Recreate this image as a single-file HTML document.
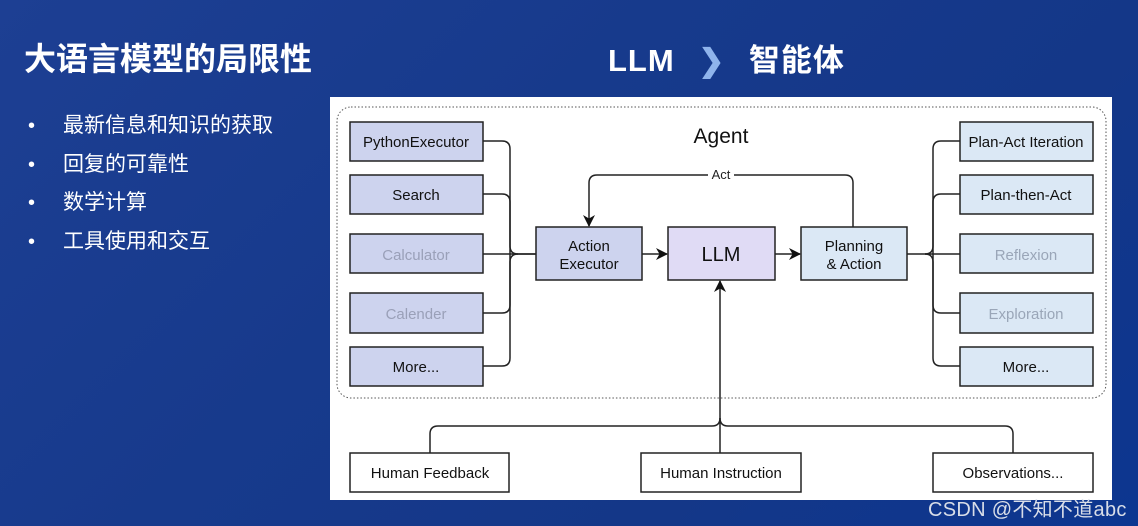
<!DOCTYPE html>
<html><head><meta charset="utf-8"><style>
html,body{margin:0;padding:0}
body{width:1138px;height:526px;overflow:hidden;position:relative;background:linear-gradient(135deg,#1d3f93 0%,#173a8c 40%,#143788 70%,#0c3690 100%);font-family:"Liberation Sans","Noto Sans CJK SC",sans-serif}
.t{position:absolute;color:#fff;white-space:nowrap}
</style></head><body>
<div class="t" style="left:24px;top:34px;font-size:32px;font-weight:bold">大语言模型的局限性</div>
<div class="t" style="left:608px;top:35px;font-size:31px;font-weight:bold;letter-spacing:1px">LLM <span style="color:#8fb4ec;margin:0 14px">❯</span> 智能体</div>
<div class="t" style="left:28px;top:107px;font-size:20px;line-height:38.5px">•<br>•<br>•<br>•</div>
<div class="t" style="left:63px;top:107px;font-size:21px;line-height:38.5px">最新信息和知识的获取<br>回复的可靠性<br>数学计算<br>工具使用和交互</div>
<div style="position:absolute;left:330px;top:97px;width:782px;height:403px;background:#fff"></div>
<svg style="position:absolute;left:0;top:0" width="1138" height="526" font-family="Liberation Sans, sans-serif">
<defs><marker id="a" markerWidth="12" markerHeight="12" refX="11" refY="6" orient="auto" markerUnits="userSpaceOnUse"><path d="M0,0 L12,6 L0,12 L3.5,6z" fill="#111"/></marker></defs>
<rect x="337" y="107" width="769" height="291" rx="14" fill="none" stroke="#555" stroke-dasharray="1.5,2"/>
<text x="721" y="143" font-size="21" text-anchor="middle" fill="#111">Agent</text>
<g stroke="#222" stroke-width="1.5" fill="#cdd3ee">
<rect x="350" y="122" width="133" height="39"/><rect x="350" y="175" width="133" height="39"/><rect x="350" y="234" width="133" height="39"/><rect x="350" y="293" width="133" height="40"/><rect x="350" y="347" width="133" height="39"/>
<rect x="536" y="227" width="106" height="53"/>
</g>
<rect x="668" y="227" width="107" height="53" fill="#e0dbf5" stroke="#222" stroke-width="1.5"/>
<g stroke="#222" stroke-width="1.5" fill="#dbe8f5">
<rect x="801" y="227" width="106" height="53"/>
<rect x="960" y="122" width="133" height="39"/><rect x="960" y="175" width="133" height="39"/><rect x="960" y="234" width="133" height="39"/><rect x="960" y="293" width="133" height="40"/><rect x="960" y="347" width="133" height="39"/>
</g>
<g stroke="#222" stroke-width="1.5" fill="#fff">
<rect x="350" y="453" width="159" height="39"/><rect x="641" y="453" width="160" height="39"/><rect x="933" y="453" width="160" height="39"/>
</g>
<g stroke="#222" stroke-width="1.5" fill="none">
<path d="M483,141 H502 Q510,141 510,149 V246 Q510,254 518,254 H536"/>
<path d="M483,194 H502 Q510,194 510,202 V254"/>
<path d="M483,254 H536"/>
<path d="M483,313 H502 Q510,313 510,305 V254"/>
<path d="M483,366 H502 Q510,366 510,358 V262 Q510,254 518,254"/>
<path d="M642,254 H667" marker-end="url(#a)"/>
<path d="M775,254 H800" marker-end="url(#a)"/>
<path d="M853,227 V183 Q853,175 845,175 H597 Q589,175 589,183 V226" marker-end="url(#a)"/>
<path d="M907,254 H960"/>
<path d="M960,141 H941 Q933,141 933,149 V246 Q933,254 925,254"/>
<path d="M960,194 H941 Q933,194 933,202 V254"/>
<path d="M960,313 H941 Q933,313 933,305 V254"/>
<path d="M960,366 H941 Q933,366 933,358 V262 Q933,254 925,254"/>
<path d="M720,453 V281" marker-end="url(#a)"/>
<path d="M430,453 V434 Q430,426 438,426 H712 Q720,426 720,418"/>
<path d="M1013,453 V434 Q1013,426 1005,426 H728 Q720,426 720,418"/>
</g>
<rect x="708" y="167" width="26" height="14" fill="#fff"/>
<text x="721" y="179" font-size="13" text-anchor="middle" fill="#222">Act</text>
<g font-size="15" text-anchor="middle" fill="#111">
<text x="416" y="147">PythonExecutor</text><text x="416" y="200">Search</text>
<text x="416" y="260" fill="#9aa0b8">Calculator</text><text x="416" y="319" fill="#9aa0b8">Calender</text>
<text x="416" y="372">More...</text>
<text x="589" y="251">Action</text><text x="589" y="269">Executor</text>
<text x="721" y="261" font-size="20">LLM</text>
<text x="854" y="251">Planning</text><text x="854" y="269">&amp; Action</text>
<text x="1026" y="147">Plan-Act Iteration</text><text x="1026" y="200">Plan-then-Act</text>
<text x="1026" y="260" fill="#9aa6b8">Reflexion</text><text x="1026" y="319" fill="#9aa6b8">Exploration</text>
<text x="1026" y="372">More...</text>
<text x="430" y="478">Human Feedback</text><text x="721" y="478">Human Instruction</text><text x="1013" y="478">Observations...</text>
</g>
</svg>
<div class="t" style="left:928px;top:493px;font-size:20px;color:#d8dde8;letter-spacing:0.3px">CSDN @不知不道abc</div>
</body></html>
